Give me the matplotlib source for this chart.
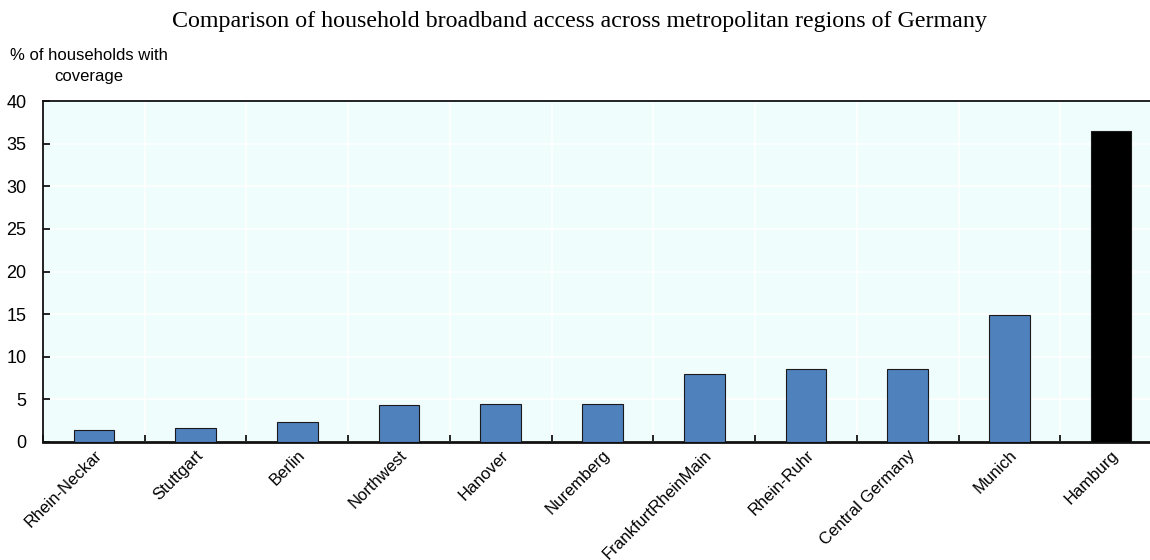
import matplotlib
matplotlib.use("Agg")
import matplotlib.pyplot as plt
import numpy as np

regions = ["Rhein-Neckar", "Stuttgart", "Berlin", "Northwest", "Hanover",
           "Nuremberg", "FrankfurtRheinMain", "Rhein-Ruhr", "Central Germany",
           "Munich", "Hamburg"]
coverage = [1.4, 1.6, 2.35, 4.3, 4.4, 4.5, 8.0, 8.55, 8.6, 14.9, 36.5]
highlight = "Hamburg"
y_ticks = [0, 5, 10, 15, 20, 25, 30, 35, 40]

plt.rcParams["font.family"] = ["Liberation Sans", "DejaVu Sans"]

fig = plt.figure(figsize=(11.5, 5.6), dpi=100)
ax = fig.add_axes([43 / 1150, 118 / 560, (1162 - 43) / 1150, 341 / 560])
ax.set_facecolor("#F0FDFD")

x = np.arange(len(regions))
colors = ["#000000" if r == highlight else "#4F81BD" for r in regions]
ax.bar(x, coverage, width=0.4, color=colors, edgecolor="#1a1a1a",
       linewidth=0.8, zorder=3)

ax.set_xlim(-0.5, len(regions) - 0.5)
ax.set_ylim(0, 40)
ax.set_yticks(y_ticks)
ax.set_yticklabels([str(t) for t in y_ticks], fontsize=13)

ax.set_xticks(x)
ax.set_xticklabels(regions, rotation=45, ha="right", va="top",
                   rotation_mode="anchor", fontsize=12)
ax.tick_params(axis="x", which="major", length=0, pad=4)
ax.set_xticks(np.arange(-0.5, len(regions), 1.0), minor=True)
ax.tick_params(axis="x", which="minor", direction="in", length=5, width=1.2)
ax.tick_params(axis="y", direction="in", length=5, width=1.2, pad=12)

ax.grid(axis="y", color="white", linewidth=1.2, zorder=0)
ax.grid(axis="x", which="minor", color="white", linewidth=1.2, zorder=0)
ax.set_axisbelow(True)

for side in ["left", "top", "right"]:
    ax.spines[side].set_linewidth(1.3)
    ax.spines[side].set_color("#111111")
ax.spines["bottom"].set_linewidth(2.0)
ax.spines["bottom"].set_color("#111111")

fig.text(580 / 1150, 1 - 22 / 560,
         "Comparison of household broadband access across metropolitan regions of Germany",
         ha="center", va="center", fontsize=17.3, family=["Liberation Serif", "DejaVu Serif"])
fig.text(89 / 1150, 1 - 66 / 560, "% of households with\ncoverage",
         ha="center", va="center", fontsize=12, linespacing=1.5)

fig.savefig("out.png", dpi=100)
